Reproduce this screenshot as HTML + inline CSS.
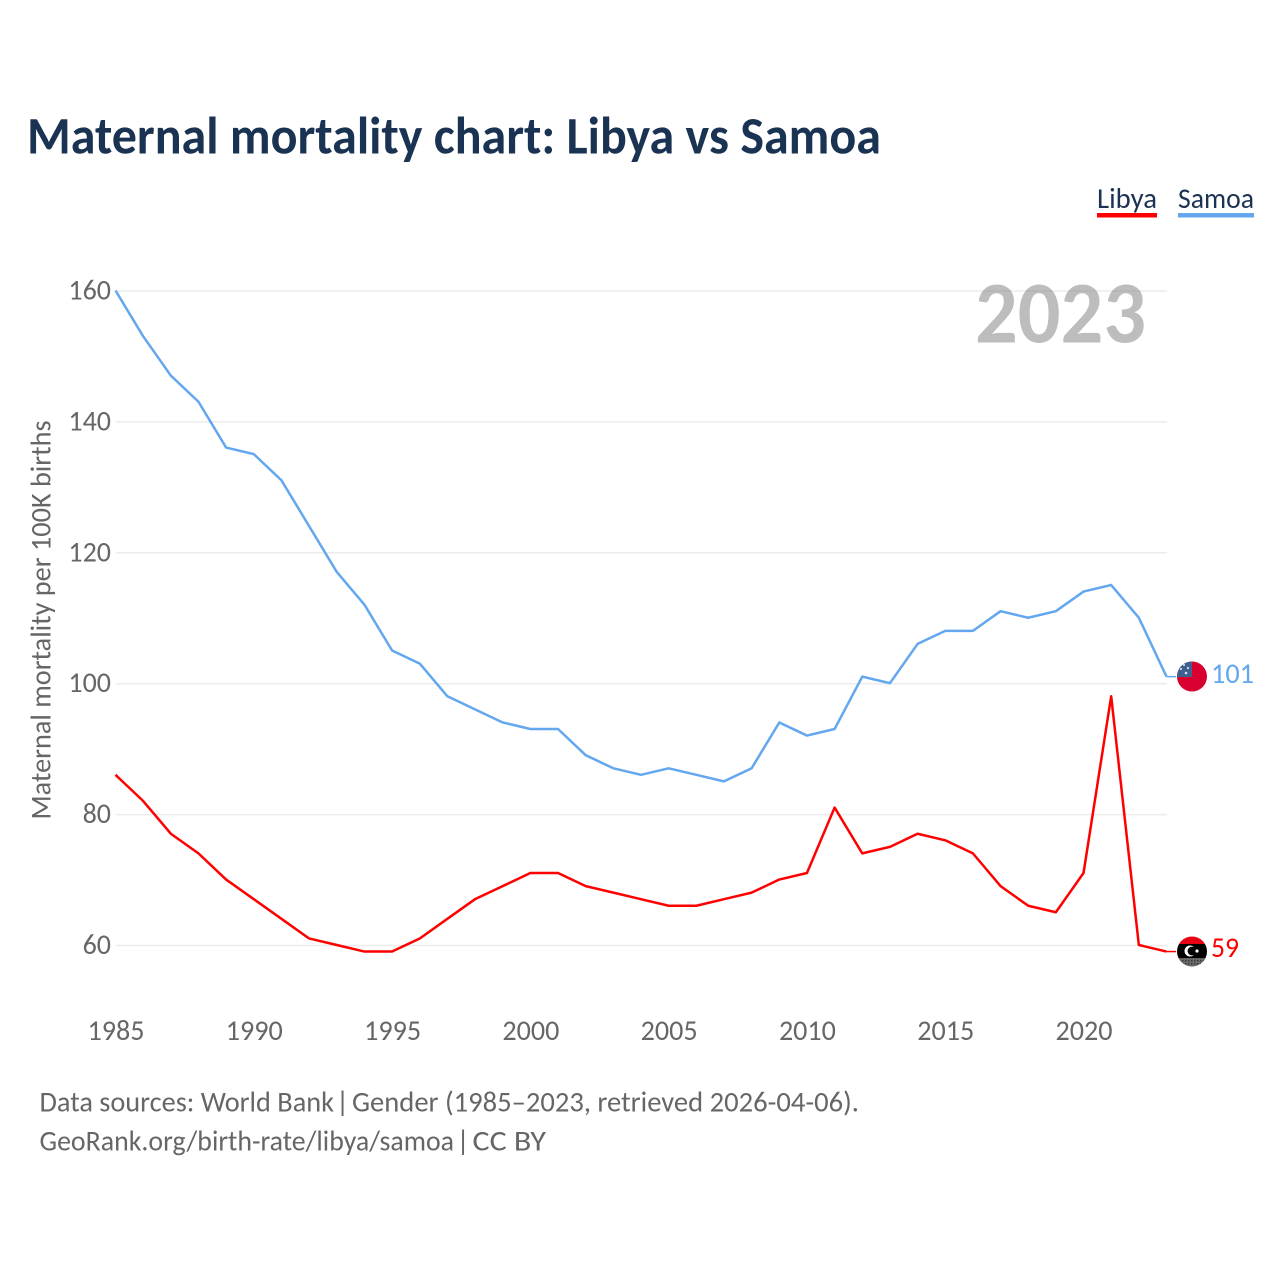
<!DOCTYPE html>
<html lang="en">
<head>
<meta charset="utf-8">
<title>Maternal mortality chart: Libya vs Samoa</title>
<style>
html,body{margin:0;padding:0;background:#fff;}
svg{display:block;font-family:"Carlito","Lato","Liberation Sans",sans-serif;}
</style>
</head>
<body>
<svg id="chart" xmlns="http://www.w3.org/2000/svg" width="1280" height="1280" viewBox="0 0 1280 1280">
  <defs>
    <clipPath id="clip-samoa"><circle cx="1192" cy="676.5" r="15"/></clipPath>
    <clipPath id="clip-libya"><circle cx="1192" cy="951.5" r="15"/></clipPath>
    <pattern id="dither" width="3" height="3" patternUnits="userSpaceOnUse">
      <rect width="3" height="3" fill="#6b6b6b"/>
      <rect width="1.5" height="1.5" fill="#3a3a3a"/>
    </pattern>
  </defs>
  <rect width="1280" height="1280" fill="#fff"/>
  <text x="27" y="153.5" font-size="53" font-weight="700" fill="#1a3353" textLength="854" lengthAdjust="spacingAndGlyphs">Maternal mortality chart: Libya vs Samoa</text>

  <g>
    <text x="1097" y="208" font-size="29" fill="#1a3353" textLength="60" lengthAdjust="spacingAndGlyphs">Libya</text>
    <rect x="1097" y="213" width="60" height="4.5" fill="#ff0000"/>
  </g>
  <g>
    <text x="1178" y="208" font-size="29" fill="#1a3353" textLength="76" lengthAdjust="spacingAndGlyphs">Samoa</text>
    <rect x="1178" y="213" width="76" height="4.5" fill="#63a7ef"/>
  </g>

  <g id="grid"></g>
  <g id="y-ticks"></g>
  <g id="x-ticks"></g>

  <text x="975" y="342.5" font-size="88" font-weight="700" fill="#808080" fill-opacity="0.52" textLength="171" lengthAdjust="spacingAndGlyphs">2023</text>

  <text transform="translate(50.5,620) rotate(-90)" text-anchor="middle" font-size="29" fill="#666" textLength="399" lengthAdjust="spacingAndGlyphs">Maternal mortality per 100K births</text>

  <path id="line-samoa" fill="none" stroke="#63a7ef" stroke-width="2.5" stroke-linejoin="round"/>
  <path id="line-libya" fill="none" stroke="#ff0000" stroke-width="2.5" stroke-linejoin="round"/>
  <path id="lead-samoa" fill="none" stroke="#63a7ef" stroke-width="1.5"/>
  <path id="lead-libya" fill="none" stroke="#ff0000" stroke-width="1.5"/>

  <g clip-path="url(#clip-samoa)">
    <rect x="1177" y="661" width="30" height="31" fill="#d7002e"/>
    <rect x="1177" y="661" width="15" height="16" fill="#3f5f8f"/>
    <circle cx="1184" cy="665" r="1.1" fill="#cfe0f5"/>
    <circle cx="1188" cy="668" r="1.1" fill="#cfe0f5"/>
    <circle cx="1181" cy="669" r="1.1" fill="#cfe0f5"/>
    <circle cx="1186" cy="673" r="1.3" fill="#cfe0f5"/>
  </g>
  <g clip-path="url(#clip-libya)">
    <rect x="1177" y="936" width="30" height="8" fill="#e70013"/>
    <rect x="1177" y="944" width="30" height="14" fill="#000"/>
    <rect x="1177" y="958" width="30" height="9" fill="url(#dither)"/>
    <circle cx="1190" cy="951" r="5.5" fill="#fff"/>
    <circle cx="1192" cy="951" r="4.4" fill="#000"/>
    <circle cx="1197" cy="951" r="1.6" fill="#fff"/>
  </g>

  <text id="value-samoa" x="1211" y="683" font-size="29" fill="#63a7ef" textLength="43" lengthAdjust="spacingAndGlyphs"></text>
  <text id="value-libya" x="1211" y="957" font-size="29" fill="#ff0000" textLength="28" lengthAdjust="spacingAndGlyphs"></text>

  <g font-size="29" fill="#666">
    <text x="39.5" y="1111.5" textLength="294.5" lengthAdjust="spacingAndGlyphs">Data sources: World Bank</text>
    <text x="342.5" y="1111.5" text-anchor="middle">|</text>
    <text x="352" y="1111.5" textLength="507" lengthAdjust="spacingAndGlyphs">Gender (1985–2023, retrieved 2026-04-06).</text>
  </g>
  <g font-size="29" fill="#666">
    <text x="39.5" y="1150.5" textLength="414.5" lengthAdjust="spacingAndGlyphs">GeoRank.org/birth-rate/libya/samoa</text>
    <text x="463" y="1150.5" text-anchor="middle">|</text>
    <text x="472.5" y="1150.5" textLength="73.5" lengthAdjust="spacingAndGlyphs">CC BY</text>
  </g>
</svg>
<script>
const years = [1985,1986,1987,1988,1989,1990,1991,1992,1993,1994,1995,1996,1997,1998,1999,2000,2001,2002,2003,2004,2005,2006,2007,2008,2009,2010,2011,2012,2013,2014,2015,2016,2017,2018,2019,2020,2021,2022,2023];
const samoaValues = [160,153,147,143,136,135,131,124,117,112,105,103,98,96,94,93,93,89,87,86,87,86,85,87,94,92,93,101,100,106,108,108,111,110,111,114,115,110,101];
const libyaValues = [86,82,77,74,70,67,64,61,60,59,59,61,64,67,69,71,71,69,68,67,66,66,67,68,70,71,81,74,75,77,76,74,69,66,65,71,98,60,59];
const yTickLabels = [60,80,100,120,140,160];
const xTickLabels = [1985,1990,1995,2000,2005,2010,2015,2020];

const NS = 'http://www.w3.org/2000/svg';
function xScale(year) { return 116 + (year - 1985) * (1167 - 116) / (2023 - 1985); }
function yScale(value) { return 945.5 - (value - 60) * (945.5 - 291) / (160 - 60); }
function linePath(values) {
  return values.map(function (v, i) {
    return (i ? 'L' : 'M') + (xScale(years[i]) - 0.5).toFixed(2) + ' ' + (yScale(v) - 0.5).toFixed(2);
  }).join(' ');
}
const grid = document.getElementById('grid');
const yTicks = document.getElementById('y-ticks');
const xTicks = document.getElementById('x-ticks');

yTickLabels.forEach(function (t) {
  const ln = document.createElementNS(NS, 'line');
  
  
  ln.setAttribute('x1', 116);
  ln.setAttribute('x2', 1167);
  ln.setAttribute('y1', yScale(t));
  ln.setAttribute('y2', yScale(t));
  ln.setAttribute('stroke', '#ececec');
  ln.setAttribute('stroke-width', '1.5');
  grid.appendChild(ln);

  const tx = document.createElementNS(NS, 'text');
  
  
  tx.setAttribute('x', 111);
  tx.setAttribute('y', yScale(t) + 8.5);
  tx.setAttribute('text-anchor', 'end');
  tx.setAttribute('font-size', '29');
  tx.setAttribute('fill', '#666');
  tx.setAttribute('textLength', String(t).length * 14.2);
  tx.setAttribute('lengthAdjust', 'spacingAndGlyphs');
  tx.textContent = t;
  yTicks.appendChild(tx);
});

xTickLabels.forEach(function (t) {
  const tx = document.createElementNS(NS, 'text');
  
  
  tx.setAttribute('x', xScale(t));
  tx.setAttribute('y', 1040);
  tx.setAttribute('text-anchor', 'middle');
  tx.setAttribute('font-size', '29');
  tx.setAttribute('fill', '#666');
  tx.setAttribute('textLength', 57);
  tx.setAttribute('lengthAdjust', 'spacingAndGlyphs');
  tx.textContent = t;
  xTicks.appendChild(tx);
});

document.getElementById('line-samoa').setAttribute('d', linePath(samoaValues));
document.getElementById('line-libya').setAttribute('d', linePath(libyaValues));

const lastSamoa = samoaValues[samoaValues.length - 1];
const lastLibya = libyaValues[libyaValues.length - 1];
document.getElementById('lead-samoa').setAttribute('d', 'M1166.5 ' + (yScale(lastSamoa) - 0.5) + ' H1176');
document.getElementById('lead-libya').setAttribute('d', 'M1166.5 ' + (yScale(lastLibya) - 0.5) + ' H1176');
document.getElementById('value-samoa').textContent = lastSamoa;
document.getElementById('value-libya').textContent = lastLibya;
</script>
</body>
</html>
